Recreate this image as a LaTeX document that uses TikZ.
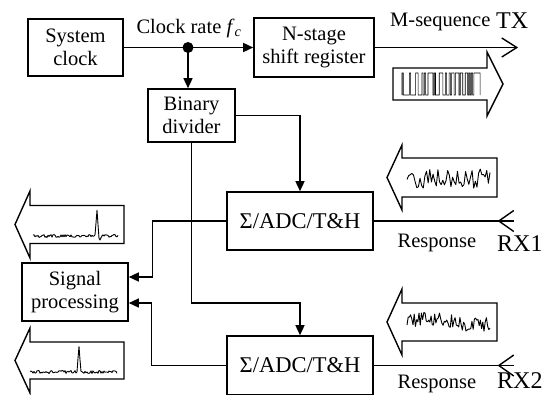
\documentclass[tikz,border=0pt]{standalone}
\usepackage{fontspec}
\setmainfont{Liberation Serif}
\usetikzlibrary{arrows.meta}

% hollow block arrow pointing left: tip x, centre y, head base x, tail x, body half height, head half height
\newcommand{\leftblockarrow}[6]{%
  \draw[blockarrow] ({#1},{#2}) -- ({#3},{#2-#6}) -- ({#3},{#2-#5}) -- ({#4},{#2-#5})
    -- ({#4},{#2+#5}) -- ({#3},{#2+#5}) -- ({#3},{#2+#6}) -- cycle;}
% hollow block arrow pointing right: tip x, centre y, head base x, tail x, body half height, head half height
\newcommand{\rightblockarrow}[6]{%
  \draw[blockarrow] ({#1},{#2}) -- ({#3},{#2-#6}) -- ({#3},{#2-#5}) -- ({#4},{#2-#5})
    -- ({#4},{#2+#5}) -- ({#3},{#2+#5}) -- ({#3},{#2+#6}) -- cycle;}

\begin{document}
\begin{tikzpicture}[x=1pt,y=-1pt,
  box/.style={draw, line width=1.6pt, align=center, inner sep=0pt,
    font=\fontsize{20.5}{23}\selectfont},
  adcfont/.style={font=\fontsize{22.5}{24}\selectfont},
  lbl/.style={inner sep=0pt, font=\fontsize{20.5}{22}\selectfont},
  biglbl/.style={inner sep=0pt, font=\fontsize{24}{26}\selectfont},
  conn/.style={line width=1.4pt},
  arr/.style={conn, -{Triangle[length=10pt,width=9pt]}},
  blockarrow/.style={line width=1.4pt, fill=white, line join=miter},
  wave/.style={line width=0.9pt, line join=round},
  barcode/.style={line width=0.6pt}]
\useasboundingbox (0,0) rectangle (548,394);

% blocks
\node[box, minimum width=95pt, minimum height=57pt] (clk) at (75.5,47.5) {System\\clock};
\node[box, minimum width=120pt, minimum height=59pt] (sr) at (314,47.5) {N-stage\\shift register};
\node[box, minimum width=87pt, minimum height=53pt] (div) at (191.5,115.5) {Binary\\divider};
\node[box, adcfont, minimum width=146pt, minimum height=58pt] (adcA) at (300,221) {Σ/ADC/T\&H};
\node[box, adcfont, minimum width=146pt, minimum height=59pt] (adcB) at (300,365.5) {Σ/ADC/T\&H};
\node[box, minimum width=106pt, minimum height=58pt] (sig) at (75,292) {Signal\\processing};

% clock distribution
\coordinate (tap) at (188,47.5);
\draw[conn] (clk.east) -- (tap);
\draw[arr] (tap) -- (sr.west);
\draw[arr] (tap) -- (tap |- div.north);
\fill (tap) circle (5.5pt);
\node[lbl] (rate) at (189,28) {Clock rate \textit{f}\textsubscript{\textit{c}}};

% divider outputs to the two samplers
\draw[arr] (div.east) -| (adcA.north);
\coordinate (bend) at (div.south |- 0,303);
\draw[arr] (div.south) -- (bend) -| (adcB.north);

% sampler outputs to signal processing
\draw[arr] (adcA.west) -- ++(-74,0) |- ([yshift=15pt]sig.east);
\draw[arr] (adcB.west) -- ++(-75,0) |- ([yshift=-11pt]sig.east);

% transmit line
\draw[conn] (sr.east) -- ++(142,0) coordinate (tx);
\draw[conn] (tx) ++(-15,-9.5) -- (tx) -- ++(-15,9.5);
\node[lbl, anchor=west] (mseq) at (390,22) {M-sequence};
\node[biglbl, anchor=west] (txl) at (496,20.5) {TX};

% receive lines
\draw[conn] (adcA.east) -- ++(140,0) coordinate (rxA);
\draw[conn] (rxA) ++(0,-10.5) -- ++(-15,10.5) -- ++(15,10.5);
\node[lbl] (respA) at (437,243) {Response};
\node[biglbl, anchor=west] (rxAl) at (497,243.5) {RX1};

\draw[conn] (adcB.east) -- ++(140,0) coordinate (rxB);
\draw[conn] (rxB) ++(0,-10.5) -- ++(-15,10.5) -- ++(15,10.5);
\node[lbl] (respB) at (437,383.5) {Response};
\node[biglbl, anchor=west] (rxBl) at (497,381) {RX2};

% transmitted M-sequence (63 chips)
\rightblockarrow{503}{84}{487}{393}{16}{32}
\draw[barcode] (402,95)
  \foreach \b [count=\i from 0] in {1,0,0,0,0,0,1,0,0,0,0,1,1,0,0,0,1,0,1,0,0,1,1,1,1,0,1,0,0,0,1,1,1,0,0,1,0,0,1,0,1,1,0,1,1,1,0,1,1,0,0,1,1,0,1,0,1,0,1,1,1,1,1}
  { -- ({402+1.24*\i},{95-22*\b}) -- ({402+1.24*(\i+1)},{95-22*\b}) } -- (480.1,95);

% received responses
\pgfmathsetseed{11}
\leftblockarrow{387}{177.5}{402}{497}{19.5}{32.5}
\draw[wave] plot[domain=407:490, samples=52] (\x, {179 + 11*rand});
\leftblockarrow{387}{322}{402}{497}{19}{33}
\draw[wave] plot[domain=407:490, samples=70] (\x, {322 + 7*rand - 3*sin(4*(\x-407))});

% processed outputs
\leftblockarrow{15}{224.5}{30}{124}{19}{33.5}
\draw[wave] plot[domain=33:118, samples=86]
  (\x, {236 + 1.5*rand - 26*max(0,1-abs(\x-97)/2) + 4*max(0,1-abs(\x-100)/2)});
\leftblockarrow{15}{360.5}{30}{124}{18.5}{32.5}
\draw[wave] plot[domain=30:117, samples=88]
  (\x, {372 + 1.5*rand - 26*max(0,1-abs(\x-79)/2)});
\end{tikzpicture}
\end{document}
